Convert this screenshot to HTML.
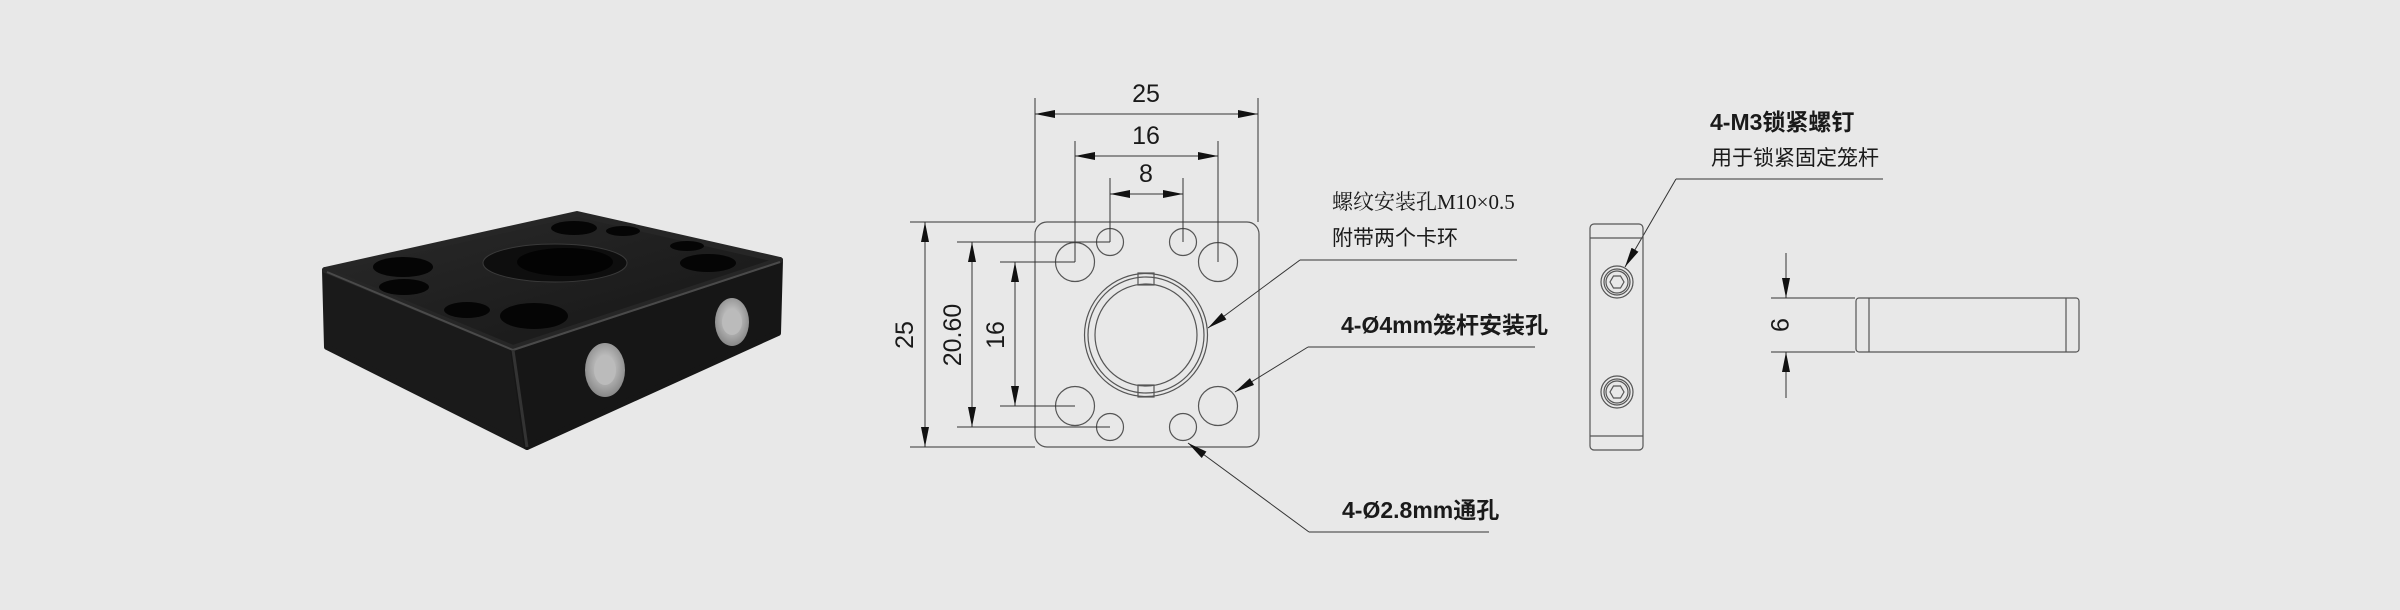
<!DOCTYPE html>
<html><head><meta charset="utf-8"><style>
html,body{margin:0;padding:0;background:#e8e8e8;}
svg{display:block}
text{font-family:"Liberation Sans","Noto Sans CJK SC",sans-serif;fill:#1a1a1a}
</style></head><body>
<svg width="2400" height="610" viewBox="0 0 2400 610" xmlns="http://www.w3.org/2000/svg">
<defs>
<marker id="a" viewBox="0 0 20 8" refX="20" refY="4" markerWidth="20" markerHeight="8" markerUnits="userSpaceOnUse" orient="auto"><path d="M0,0 L20,4 L0,8 z" fill="#111"/></marker>
<radialGradient id="sc" cx="50%" cy="45%" r="55%"><stop offset="0" stop-color="#ddd"/><stop offset="1" stop-color="#888"/></radialGradient>
<linearGradient id="tf" x1="0" y1="0" x2="1" y2="1"><stop offset="0" stop-color="#2a2a2a"/><stop offset="1" stop-color="#151515"/></linearGradient>
</defs>
<rect width="2400" height="610" fill="#e8e8e8"/>

<!-- Photo -->
<g stroke-linejoin="round">
<polygon points="325,270 513,348 527,447 327,347" fill="#1a1a1a" stroke="#1a1a1a" stroke-width="6"/>
<polygon points="513,348 780,260 778,333 527,447" fill="#161616" stroke="#161616" stroke-width="6"/>
<polygon points="325,270 577,214 780,260 513,348" fill="url(#tf)" stroke="#262626" stroke-width="6"/>
<polyline points="327,272 513,350 780,262" fill="none" stroke="#4a4a4a" stroke-width="2"/>
<line x1="513" y1="350" x2="527" y2="447" stroke="#333" stroke-width="3"/>
<ellipse cx="403" cy="267" rx="30" ry="10" fill="#050505"/>
<ellipse cx="404" cy="287" rx="25" ry="8" fill="#050505"/>
<ellipse cx="467" cy="310" rx="23" ry="8" fill="#050505"/>
<ellipse cx="534" cy="316" rx="34" ry="13" fill="#050505"/>
<ellipse cx="574" cy="228" rx="23" ry="7" fill="#050505"/>
<ellipse cx="623" cy="231" rx="17" ry="5" fill="#050505"/>
<ellipse cx="687" cy="246" rx="17" ry="5" fill="#050505"/>
<ellipse cx="708" cy="263" rx="28" ry="9" fill="#050505"/>
<ellipse cx="555" cy="263" rx="72" ry="19" fill="#0e0e0e" stroke="#3a3a3a"/>
<ellipse cx="565" cy="262" rx="48" ry="14" fill="#030303"/>
<ellipse cx="605" cy="370" rx="20" ry="27" fill="url(#sc)"/>
<ellipse cx="605" cy="370" rx="11" ry="15" fill="#bbb"/>
<ellipse cx="732" cy="322" rx="17" ry="24" fill="url(#sc)"/>
<ellipse cx="732" cy="322" rx="10" ry="13" fill="#bbb"/>
</g>

<!-- Front view -->
<g fill="none" stroke="#555" stroke-width="1.2">
<rect x="1035" y="222" width="224" height="225" rx="12"/>
<circle cx="1075" cy="262" r="19.5"/><circle cx="1218" cy="262" r="19.5"/>
<circle cx="1075" cy="406" r="19.5"/><circle cx="1218" cy="406" r="19.5"/>
<circle cx="1110" cy="242" r="13.5"/><circle cx="1183" cy="242" r="13.5"/>
<circle cx="1110" cy="427" r="13.5"/><circle cx="1183" cy="427" r="13.5"/>
<circle cx="1146" cy="335" r="61.5"/><circle cx="1146" cy="335" r="58"/>
<circle cx="1146" cy="335" r="51"/>
<rect x="1138" y="273" width="16" height="12"/><rect x="1138" y="385" width="16" height="12"/>
</g>
<g stroke="#333" stroke-width="1" fill="none">
<line x1="1035" y1="98" x2="1035" y2="222"/><line x1="1258" y1="98" x2="1258" y2="222"/>
<line x1="1146" y1="114" x2="1035" y2="114" marker-end="url(#a)"/><line x1="1146" y1="114" x2="1258" y2="114" marker-end="url(#a)"/>
<line x1="1075" y1="141" x2="1075" y2="262"/><line x1="1218" y1="141" x2="1218" y2="262"/>
<line x1="1146" y1="156" x2="1075" y2="156" marker-end="url(#a)"/><line x1="1146" y1="156" x2="1218" y2="156" marker-end="url(#a)"/>
<line x1="1110" y1="178" x2="1110" y2="242"/><line x1="1183" y1="178" x2="1183" y2="242"/>
<line x1="1146" y1="194" x2="1110" y2="194" marker-end="url(#a)"/><line x1="1146" y1="194" x2="1183" y2="194" marker-end="url(#a)"/>
<line x1="910" y1="222" x2="1035" y2="222"/><line x1="910" y1="447" x2="1035" y2="447"/>
<line x1="925" y1="335" x2="925" y2="222" marker-end="url(#a)"/><line x1="925" y1="335" x2="925" y2="447" marker-end="url(#a)"/>
<line x1="957" y1="242" x2="1110" y2="242"/><line x1="957" y1="427" x2="1110" y2="427"/>
<line x1="972" y1="335" x2="972" y2="242" marker-end="url(#a)"/><line x1="972" y1="335" x2="972" y2="427" marker-end="url(#a)"/>
<line x1="1000" y1="262" x2="1075" y2="262"/><line x1="1000" y1="406" x2="1075" y2="406"/>
<line x1="1015" y1="335" x2="1015" y2="262" marker-end="url(#a)"/><line x1="1015" y1="335" x2="1015" y2="406" marker-end="url(#a)"/>
<line x1="1517" y1="260" x2="1300" y2="260"/><line x1="1300" y1="260" x2="1208" y2="328" marker-end="url(#a)"/>
<line x1="1535" y1="347" x2="1308" y2="347"/><line x1="1308" y1="347" x2="1235" y2="392" marker-end="url(#a)"/>
<line x1="1489" y1="532" x2="1309" y2="532"/><line x1="1309" y1="532" x2="1188" y2="443" marker-end="url(#a)"/>
<line x1="1883" y1="179" x2="1676" y2="179"/><line x1="1676" y1="179" x2="1625" y2="267" marker-end="url(#a)"/>
<line x1="1771" y1="298" x2="1855" y2="298"/><line x1="1771" y1="352" x2="1855" y2="352"/>
<line x1="1786" y1="253" x2="1786" y2="298" marker-end="url(#a)"/><line x1="1786" y1="398" x2="1786" y2="352" marker-end="url(#a)"/>
</g>
<g font-size="25">
<text x="1146" y="102" text-anchor="middle">25</text>
<text x="1146" y="144" text-anchor="middle">16</text>
<text x="1146" y="182" text-anchor="middle">8</text>
<text transform="translate(913,335) rotate(-90)" text-anchor="middle">25</text>
<text transform="translate(961,335) rotate(-90)" text-anchor="middle">20.60</text>
<text transform="translate(1004,335) rotate(-90)" text-anchor="middle">16</text>
<text transform="translate(1771,325) rotate(90)" text-anchor="middle">9</text>
</g>
<g font-size="21">
<text x="1332" y="209" style="font-family:'Liberation Serif','Noto Serif CJK SC',serif">螺纹安装孔M10×0.5</text>
<text x="1332" y="245">附带两个卡环</text>
<text x="1711" y="165">用于锁紧固定笼杆</text>
</g>
<g font-size="23" font-weight="bold">
<text x="1341" y="333">4-Ø4mm笼杆安装孔</text>
<text x="1342" y="518">4-Ø2.8mm通孔</text>
<text x="1710" y="130">4-M3锁紧螺钉</text>
</g>

<g fill="none" stroke="#555" stroke-width="1.2">
<rect x="1590" y="224" width="53" height="226" rx="4"/>
<line x1="1590" y1="238" x2="1643" y2="238"/><line x1="1590" y1="436" x2="1643" y2="436"/>
<circle cx="1617" cy="282" r="16"/><circle cx="1617" cy="282" r="13"/><circle cx="1617" cy="282" r="11"/>
<polygon points="1624,282 1620.5,288 1613.5,288 1610,282 1613.5,276 1620.5,276"/>
<circle cx="1617" cy="392" r="16"/><circle cx="1617" cy="392" r="13"/><circle cx="1617" cy="392" r="11"/>
<polygon points="1624,392 1620.5,398 1613.5,398 1610,392 1613.5,386 1620.5,386"/>
<rect x="1856" y="298" width="223" height="54" rx="3"/>
<line x1="1869" y1="298" x2="1869" y2="352"/><line x1="2066" y1="298" x2="2066" y2="352"/>
</g>
</svg>
</body></html>
